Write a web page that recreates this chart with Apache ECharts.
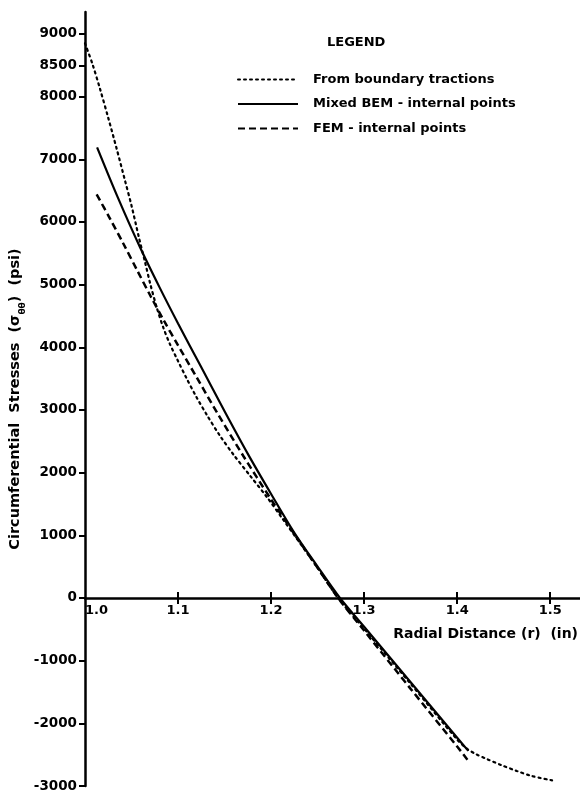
<!DOCTYPE html>
<html>
<head>
<meta charset="utf-8">
<script src="https://cdn.jsdelivr.net/npm/echarts@6/dist/echarts.min.js"></script>
<style>
html,body{margin:0;padding:0;background:#fff;}
#c{width:580px;height:793px;}
</style>
</head>
<body>
<div id="c"></div>
<script>
// Radial distance (in) and circumferential stress (psi)
var tractionR = [1.000, 1.008, 1.016, 1.025, 1.034, 1.043, 1.050, 1.058, 1.065, 1.070, 1.077, 1.084, 1.091, 1.100, 1.109, 1.120, 1.131, 1.145, 1.160, 1.178, 1.196, 1.213, 1.250, 1.272, 1.300, 1.350, 1.400, 1.410, 1.420, 1.432, 1.448, 1.464, 1.480, 1.502];
var tractionS = [8850, 8520, 8130, 7660, 7170, 6660, 6260, 5750, 5330, 5020, 4640, 4320, 4060, 3780, 3510, 3200, 2920, 2590, 2280, 1940, 1600, 1250, 480, 0, -490, -1370, -2260, -2400, -2490, -2570, -2670, -2760, -2840, -2910];

var mixedR = [1.013, 1.035, 1.059, 1.080, 1.100, 1.125, 1.150, 1.175, 1.200, 1.225, 1.250, 1.274, 1.300, 1.350, 1.400, 1.412];
var mixedS = [7190, 6400, 5600, 4960, 4380, 3680, 2980, 2300, 1660, 1040, 500, 0, -460, -1345, -2230, -2440];

var femR = [1.0125, 1.027, 1.041, 1.056, 1.070, 1.085, 1.100, 1.120, 1.143, 1.170, 1.199, 1.225, 1.250, 1.272, 1.300, 1.350, 1.400, 1.411];
var femS = [6440, 6050, 5660, 5230, 4830, 4420, 4030, 3520, 2930, 2270, 1595, 1020, 480, 0, -520, -1450, -2370, -2580];

var xTicks = [1.1, 1.2, 1.3, 1.4, 1.5];
var xLabels = [1.0, 1.1, 1.2, 1.3, 1.4, 1.5];
var yTicks = [-3000, -2000, -1000, 0, 1000, 2000, 3000, 4000, 5000, 6000, 7000, 8000, 8500, 9000];

var seriesNames = ['From boundary tractions', 'Mixed BEM - internal points', 'FEM - internal points'];

function pairs(xs, ys) { return xs.map(function (x, i) { return [x, ys[i]]; }); }

var FONT = 'DejaVu Sans';
var Y_MIN = -3000, Y_MAX = 9350;
var GRID_TOP = 12, GRID_BOTTOM = 7, H = 793;
// place the x axis on the y = 0 line (ECharts v6 keeps labels at the grid edge with onZero)
var zeroOffset = -(H - GRID_TOP - GRID_BOTTOM) * (0 - Y_MIN) / (Y_MAX - Y_MIN);

var chart = echarts.init(document.getElementById('c'), null, { renderer: 'canvas' });

var option = {
  backgroundColor: '#fff',
  animation: false,
  title: {
    text: 'LEGEND', left: 327, top: 36, padding: 0,
    textStyle: { fontFamily: FONT, fontWeight: 'bold', fontSize: 13, color: '#000' }
  },
  legend: {
    orient: 'vertical', left: 237, top: 73, padding: 0,
    itemWidth: 60, itemHeight: 14, itemGap: 11.5,
    data: seriesNames,
    itemStyle: { opacity: 0 },
    textStyle: { fontFamily: FONT, fontWeight: 'bold', fontSize: 13, color: '#000', padding: [0, 0, 0, 10] }
  },
  grid: { left: 85, right: 0, top: GRID_TOP, bottom: GRID_BOTTOM, containLabel: false, outerBoundsMode: 'none' },
  xAxis: [{
    type: 'value', min: 1.0, max: 1.532, position: 'bottom', offset: zeroOffset,
    axisLine: { onZero: false, lineStyle: { color: '#000', width: 2.5 } },
    axisTick: { show: true, length: 6, lineStyle: { color: '#000', width: 2 }, customValues: xTicks },
    axisLabel: { customValues: xLabels, margin: 6, alignMinLabel: 'left', color: '#000', fontFamily: FONT, fontWeight: 'bold', fontSize: 13,
      formatter: function (v) { return v.toFixed(1); } },
    splitLine: { show: false }
  }, {
    type: 'value', min: 1.0, max: 1.532, position: 'bottom', offset: zeroOffset,
    axisLine: { show: false, onZero: false },
    axisTick: { show: true, inside: true, length: 6, lineStyle: { color: '#000', width: 2 }, customValues: xTicks },
    axisLabel: { show: false },
    splitLine: { show: false }
  }],
  yAxis: {
    type: 'value', min: Y_MIN, max: Y_MAX,
    name: '{a|Circumferential  Stresses  (σ}{s|θθ}{a|)  (psi)}',
    nameLocation: 'middle', nameGap: 62, nameRotate: 90, nameMoveOverlap: false,
    nameTextStyle: {
      rich: {
        a: { fontFamily: FONT, fontWeight: 'bold', fontSize: 14.5, color: '#000', lineHeight: 20, verticalAlign: 'bottom' },
        s: { fontFamily: FONT, fontWeight: 'bold', fontSize: 9, color: '#000', lineHeight: 20, verticalAlign: 'bottom', padding: [0, 0, -4, 0] }
      }
    },
    axisLine: { show: true, onZero: false, lineStyle: { color: '#000', width: 2.5 } },
    axisTick: { show: true, length: 6, lineStyle: { color: '#000', width: 2 }, customValues: yTicks },
    axisLabel: { customValues: yTicks, margin: 8, color: '#000', fontFamily: FONT, fontWeight: 'bold', fontSize: 13.5,
      formatter: function (v) { return String(v); } },
    splitLine: { show: false }
  },
  graphic: [{
    type: 'text', right: 2, top: 627,
    style: { text: 'Radial Distance (r)  (in)', fill: '#000', font: 'bold 14px "DejaVu Sans"' }
  }],
  series: [{
    name: seriesNames[0], type: 'line', data: pairs(tractionR, tractionS), xAxisIndex: 0,
    smooth: 0.3, symbol: 'none', showSymbol: false,
    lineStyle: { color: '#000', width: 2.2, type: [2, 4], cap: 'round' },
    itemStyle: { color: '#000' }
  }, {
    name: seriesNames[1], type: 'line', data: pairs(mixedR, mixedS), xAxisIndex: 0,
    smooth: 0.3, symbol: 'none', showSymbol: false,
    lineStyle: { color: '#000', width: 2.2, type: 'solid' },
    itemStyle: { color: '#000' }
  }, {
    name: seriesNames[2], type: 'line', data: pairs(femR, femS), xAxisIndex: 0,
    smooth: 0.3, symbol: 'none', showSymbol: false,
    lineStyle: { color: '#000', width: 2.5, type: [7, 4] },
    itemStyle: { color: '#000' }
  }]
};
chart.setOption(option);
</script>
</body>
</html>
